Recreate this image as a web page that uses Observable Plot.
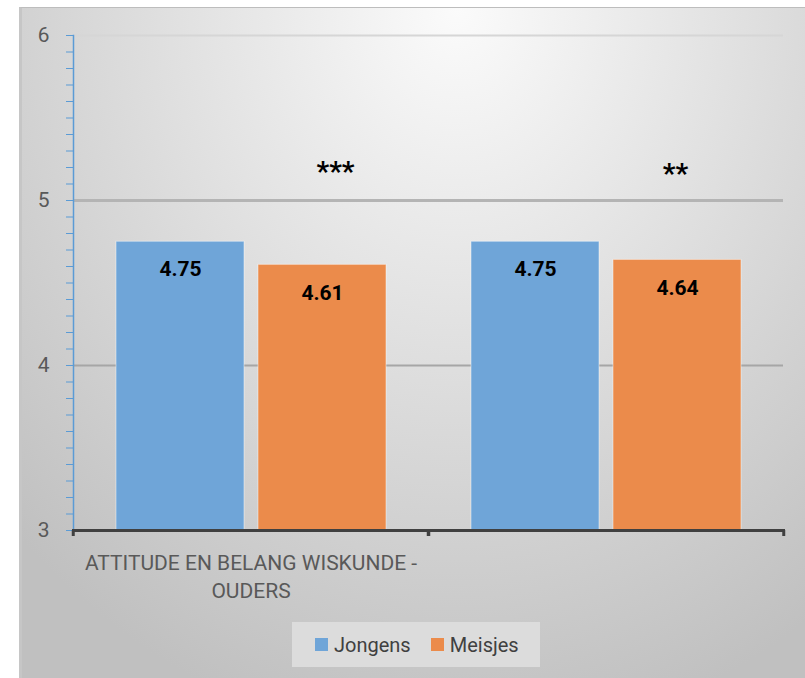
<!DOCTYPE html>
<html>
<head>
<meta charset="utf-8">
<script src="https://cdn.jsdelivr.net/npm/d3@7"></script>
<script src="https://cdn.jsdelivr.net/npm/@observablehq/plot@0.6"></script>
<style>
  html, body { margin: 0; padding: 0; background: #ffffff; width: 805px; height: 678px; overflow: hidden; }
  #bg { position: absolute; left: 19px; top: 7px; width: 786px; height: 671px; box-sizing: border-box;
        border-left: 3px solid #c6c6c6; border-top: 1px solid #bdbdbd;
        background: radial-gradient(ellipse 628px 738px at 435px 0px, #fbfbfb 0%, #c0c0c0 100%); }
  #chart { position: absolute; left: 0; top: 0; }
  #legend { position: absolute; left: 292px; top: 622px; width: 248px; height: 45px; background: #dcdcdc;
            font-family: Roboto, sans-serif; font-size: 20px; color: #404040; display: flex; align-items: center; }
  .item { display: flex; align-items: center; }
  .sw { width: 13px; height: 13px; display: inline-block; margin-right: 6px; }
</style>
</head>
<body>
<div id="bg"></div>
<div id="chart"></div>
<div id="legend"></div>
<script>
// ---- data ----
const categories = ["ATTITUDE EN BELANG WISKUNDE - OUDERS", ""];
const series = ["Jongens", "Meisjes"];
const jongens = [4.75, 4.75];
const meisjes = [4.61, 4.64];
const significance = ["***", "**"];
const significanceY = [5.17, 5.16];
const yTicks = [3, 4, 5, 6];
const colors = ["#6fa5d8", "#eb8b4b"];

const rows = [];
categories.forEach((c, i) => {
  rows.push({group: c, series: series[0], value: jongens[i]});
  rows.push({group: c, series: series[1], value: meisjes[i]});
});
const sig = categories.map((c, i) => ({group: c, series: series[1], text: significance[i], y: significanceY[i]}));

const W = 805, ML = 72, MR = 22;
const half = (W - ML - MR) / categories.length / 2;
const minorTicks = d3.ticks(3, 6, 30);

const plot = Plot.plot({
  width: W,
  height: 600,
  marginLeft: ML,
  marginRight: MR,
  marginTop: 35,
  marginBottom: 70,
  style: {fontFamily: "Roboto, sans-serif", background: "transparent", overflow: "visible"},
  fx: {domain: categories, padding: 0, axis: null, label: null},
  x: {domain: series, paddingInner: 0.1, paddingOuter: 0.3, axis: null},
  y: {domain: [3, 6], axis: null},
  color: {domain: series, range: colors},
  marks: [
    Plot.ruleY([yTicks[3]], {stroke: "#d6d6d6", strokeWidth: 2}),
    Plot.ruleY([yTicks[2]], {stroke: "#b4b4b4", strokeWidth: 3}),
    Plot.ruleY([yTicks[1]], {stroke: "#a6a6a6", strokeWidth: 2}),
    Plot.barY(rows, {fx: "group", x: "series", y1: 3, y2: "value", fill: "series",
                     stroke: "#ffffff", strokeOpacity: 0.45, strokeWidth: 1}),
    Plot.text(rows, {fx: "group", x: "series", y: "value", text: d => d.value.toFixed(2),
                     dy: 28, fontSize: 21, fontWeight: "bold", fill: "#000000"}),
    Plot.text([sig[0]], {fx: "group", x: "series", y: "y", text: "text", dx: 13,
                    fontSize: 28, fontWeight: "bold", fill: "#000000"}),
    Plot.text([sig[1]], {fx: "group", x: "series", y: "y", text: "text", dx: -2,
                    fontSize: 28, fontWeight: "bold", fill: "#000000"}),
    Plot.axisY({ticks: minorTicks, tickSize: 7, text: null, stroke: "#5b9bd5"}),
    Plot.axisY({ticks: yTicks, tickSize: 0, tickPadding: 24, fontSize: 21, fill: "#595959",
                tickFormat: d => String(d), label: null}),
    Plot.frame({anchor: "left", stroke: "#5b9bd5", strokeWidth: 1.5, facetAnchor: "left"}),
    Plot.frame({anchor: "bottom", stroke: "#404040", strokeWidth: 3}),
    Plot.axisFx({anchor: "bottom", text: null, tickSize: 6, dx: -half, stroke: "#404040", strokeWidth: 3, label: null}),
    Plot.axisFx({anchor: "bottom", text: null, tickSize: 6, dx: half, stroke: "#404040", strokeWidth: 3, label: null}),
    Plot.text(categories, {fx: d => d, text: d => d.replace("- ", "-\n"), frameAnchor: "bottom",
                           lineAnchor: "top", dy: 19, lineHeight: 1.35, fontSize: 21, fill: "#595959"})
  ]
});
document.getElementById("chart").appendChild(plot);

const legend = document.getElementById("legend");
series.forEach((s, i) => {
  const it = document.createElement("div");
  it.className = "item";
  it.style.marginLeft = i === 0 ? "23px" : "20px";
  it.innerHTML = `<span class="sw" style="background:${colors[i]}"></span><span>${s}</span>`;
  legend.appendChild(it);
});
</script>
</body>
</html>
